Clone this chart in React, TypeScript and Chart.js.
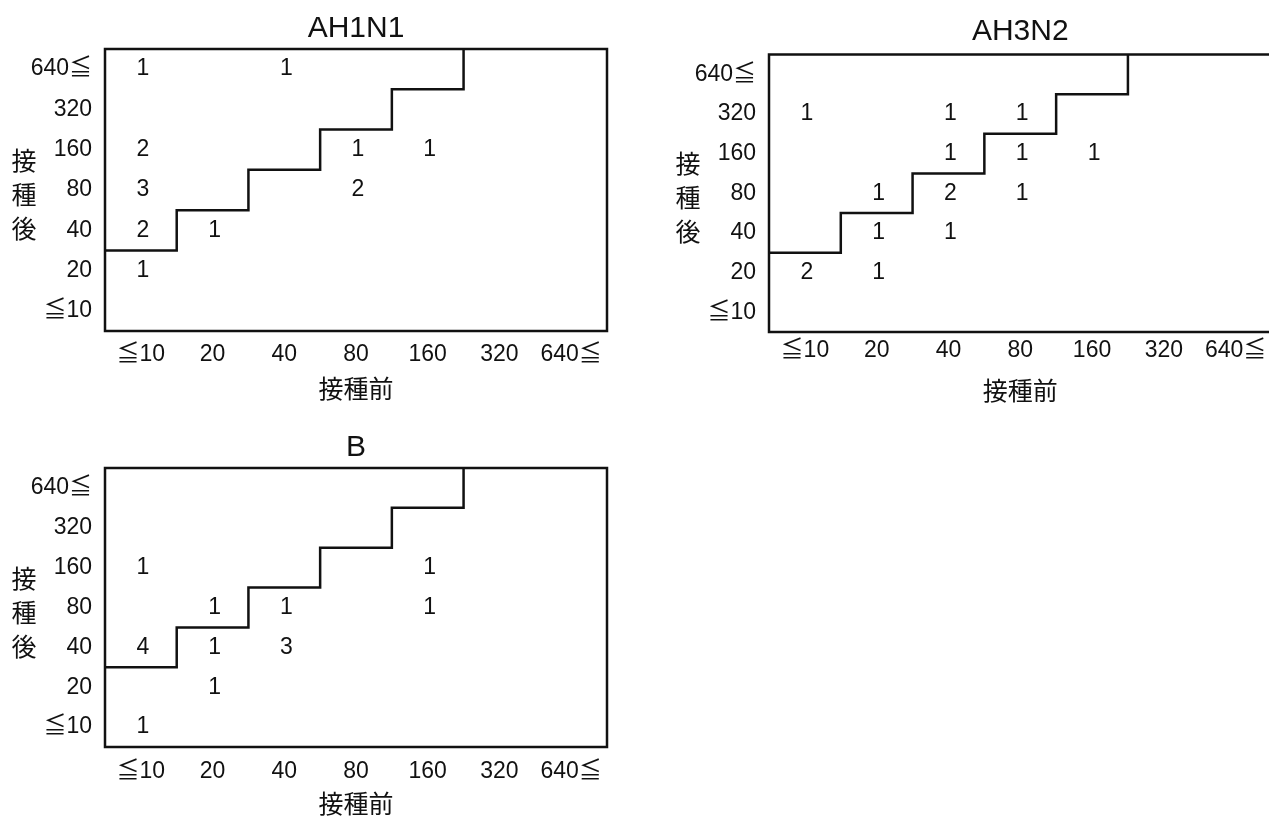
import React, { useEffect, useRef } from "react";
import { Chart, registerables } from "chart.js";

Chart.register(...registerables);

// ---- data ----
const titerLabels = ["≦10", "20", "40", "80", "160", "320", "640≦"];

// AH1N1: titre before vaccination (x), after (y), number of subjects
const ah1n1Before = ["≦10", "40", "≦10", "80", "160", "≦10", "80", "≦10", "20", "≦10"];
const ah1n1After = ["640≦", "640≦", "160", "160", "160", "80", "80", "40", "40", "20"];
const ah1n1Count = [1, 1, 2, 1, 1, 3, 2, 2, 1, 1];

// AH3N2
const ah3n2Before = ["≦10", "40", "80", "40", "80", "160", "20", "40", "80", "20", "40", "≦10", "20"];
const ah3n2After = ["320", "320", "320", "160", "160", "160", "80", "80", "80", "40", "40", "20", "20"];
const ah3n2Count = [1, 1, 1, 1, 1, 1, 1, 2, 1, 1, 1, 2, 1];

// B
const bBefore = ["≦10", "160", "20", "40", "160", "≦10", "20", "40", "20", "≦10"];
const bAfter = ["160", "160", "80", "80", "80", "40", "40", "40", "20", "≦10"];
const bCount = [1, 1, 1, 1, 1, 4, 1, 3, 1, 1];

// four-fold rise boundary (category index units, cell edges)
const stepX = [-0.5, 0.5, 1.5, 2.5, 3.5, 4.5];
const stepY = [1.5, 2.5, 3.5, 4.5, 5.5, 6.5];

const xTitle = "接種前";
const yTitle = ["接", "種", "後"];

// ---- styling ----
const INK = "#111111";
const NUM = '"Liberation Sans Narrow", "Liberation Sans", Arial, "Noto Sans CJK JP", sans-serif';
const LATIN = '"Liberation Sans", Arial, "Noto Sans CJK JP", sans-serif';
const CJK = '"Noto Sans CJK JP", "Noto Sans", sans-serif';
const NUM_SIZE = 23;

const framePlugin = {
  id: "frame",
  afterDraw(chart: any) {
    const { ctx, chartArea: a } = chart;
    ctx.save();
    ctx.strokeStyle = INK;
    ctx.lineWidth = 2.5;
    ctx.strokeRect(a.left, a.top, a.right - a.left, a.bottom - a.top);
    ctx.restore();
  },
};

const cellTextPlugin = {
  id: "cellText",
  afterDatasetsDraw(chart: any) {
    const { ctx } = chart;
    chart.data.datasets.forEach((ds: any, di: number) => {
      if (ds.label !== "counts") return;
      const meta = chart.getDatasetMeta(di);
      ctx.save();
      ctx.fillStyle = INK;
      ctx.font = `${NUM_SIZE}px ${NUM}`;
      ctx.textAlign = "center";
      ctx.textBaseline = "middle";
      meta.data.forEach((el: any, i: number) => {
        ctx.fillText(String(ds.data[i].n), el.x + 2, el.y);
      });
      ctx.restore();
    });
  },
};

const yTitlePlugin = {
  id: "yTitleStack",
  afterDraw(chart: any) {
    const { ctx, chartArea: a } = chart;
    const cx = a.left - 81;
    const cy = (a.top + a.bottom) / 2 + 4.5;
    ctx.save();
    ctx.fillStyle = INK;
    ctx.font = `25px ${CJK}`;
    ctx.textAlign = "center";
    ctx.textBaseline = "middle";
    yTitle.forEach((ch, i) => {
      ctx.fillText(ch, cx, cy + (i - 1) * 34);
    });
    ctx.restore();
  },
};

type Spec = {
  title: string;
  titleSize: number;
  before: string[];
  after: string[];
  count: number[];
  width: number;
  height: number;
  areaLeft: number;
  areaRight: number;
  areaTop: number;
  areaBottom: number;
  titleCenter: number;
  tickCenter: number;
  xTitleCenter: number;
};

function makeConfig(s: Spec): any {
  const titleLH = s.titleSize * 1.2;
  const tickLH = NUM_SIZE * 1.2;
  const xTitleLH = 25 * 1.2;
  const xHeight = s.xTitleCenter - s.areaBottom + xTitleLH / 2;
  const bottomPad = s.height - s.areaBottom - xHeight;
  const idx = (l: string) => titerLabels.indexOf(l);
  const ticksFor = (scale: any) => {
    scale.ticks = titerLabels.map((_, i) => ({ value: i }));
  };
  return {
    type: "scatter",
    data: {
      datasets: [
        {
          type: "line",
          label: "step",
          data: stepX.map((x, i) => ({ x, y: stepY[i] })),
          stepped: "before",
          showLine: true,
          borderColor: INK,
          borderWidth: 2.5,
          pointRadius: 0,
          fill: false,
          clip: false,
        },
        {
          label: "counts",
          data: s.before.map((b, i) => ({ x: idx(b), y: idx(s.after[i]), n: s.count[i] })),
          pointRadius: 0,
          pointHoverRadius: 0,
        },
      ],
    },
    options: {
      animation: false,
      responsive: false,
      devicePixelRatio: 1,
      events: [],
      layout: {
        padding: { left: 0, top: 0, right: s.width - s.areaRight, bottom: bottomPad },
      },
      plugins: {
        legend: { display: false },
        tooltip: { enabled: false },
        title: {
          display: true,
          text: s.title,
          fullSize: false,
          color: INK,
          font: { family: LATIN, size: s.titleSize, weight: "normal", lineHeight: 1.2 },
          padding: {
            top: s.titleCenter - titleLH / 2,
            bottom: s.areaTop - s.titleCenter - titleLH / 2,
          },
        },
      },
      scales: {
        x: {
          type: "linear",
          position: "bottom",
          min: -0.5,
          max: 6.5,
          afterBuildTicks: ticksFor,
          afterFit: (sc: any) => {
            sc.height = xHeight;
          },
          ticks: {
            autoSkip: false,
            maxRotation: 0,
            color: INK,
            padding: s.tickCenter - s.areaBottom - tickLH / 2,
            font: { family: NUM, size: NUM_SIZE, lineHeight: 1.2 },
            callback: (v: number) => titerLabels[v],
          },
          grid: { display: false, drawTicks: false },
          border: { display: false },
          title: {
            display: true,
            text: xTitle,
            color: INK,
            font: { family: CJK, size: 25, lineHeight: 1.2 },
            padding: { top: 0, bottom: 0 },
          },
        },
        y: {
          type: "linear",
          position: "left",
          min: -0.5,
          max: 6.5,
          afterBuildTicks: ticksFor,
          afterFit: (sc: any) => {
            sc.width = s.areaLeft;
          },
          ticks: {
            autoSkip: false,
            color: INK,
            padding: 13,
            font: { family: NUM, size: NUM_SIZE, lineHeight: 1.2 },
            callback: (v: number) => titerLabels[v],
          },
          grid: { display: false, drawTicks: false },
          border: { display: false },
        },
      },
    },
    plugins: [framePlugin, cellTextPlugin, yTitlePlugin],
  };
}

function Panel({ spec, left, top }: { spec: Spec; left: number; top: number }) {
  const ref = useRef<HTMLCanvasElement | null>(null);
  useEffect(() => {
    if (!ref.current) return;
    const chart = new Chart(ref.current, makeConfig(spec));
    return () => chart.destroy();
  }, [spec]);
  return (
    <canvas
      ref={ref}
      width={spec.width}
      height={spec.height}
      style={{ position: "absolute", left, top, width: spec.width, height: spec.height }}
    />
  );
}

const specAH1N1: Spec = {
  title: "AH1N1",
  titleSize: 30,
  before: ah1n1Before,
  after: ah1n1After,
  count: ah1n1Count,
  width: 640,
  height: 410,
  areaLeft: 105,
  areaRight: 607,
  areaTop: 49,
  areaBottom: 331,
  titleCenter: 29,
  tickCenter: 355,
  xTitleCenter: 388,
};

const specAH3N2: Spec = {
  title: "AH3N2",
  titleSize: 30,
  before: ah3n2Before,
  after: ah3n2After,
  count: ah3n2Count,
  width: 650,
  height: 410,
  areaLeft: 129,
  areaRight: 631.5,
  areaTop: 54.5,
  areaBottom: 332,
  titleCenter: 32,
  tickCenter: 351,
  xTitleCenter: 390,
};

const specB: Spec = {
  title: "B",
  titleSize: 30,
  before: bBefore,
  after: bAfter,
  count: bCount,
  width: 640,
  height: 410,
  areaLeft: 105,
  areaRight: 607,
  areaTop: 58,
  areaBottom: 337,
  titleCenter: 37.5,
  tickCenter: 362,
  xTitleCenter: 393,
};

export default function App() {
  return (
    <div
      style={{
        position: "fixed",
        left: 0,
        top: 0,
        width: 1269,
        height: 817,
        overflow: "hidden",
        background: "#ffffff",
      }}
    >
      <Panel spec={specAH1N1} left={0} top={0} />
      <Panel spec={specAH3N2} left={640} top={0} />
      <Panel spec={specB} left={0} top={410} />
    </div>
  );
}
